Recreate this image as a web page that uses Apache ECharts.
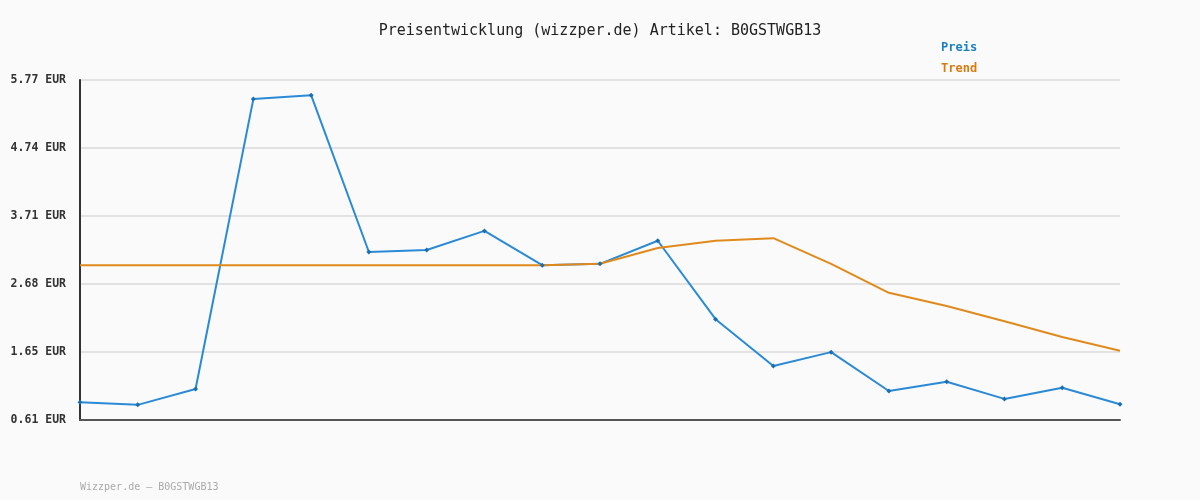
<!DOCTYPE html><html><head><meta charset="utf-8"><script src="https://cdn.jsdelivr.net/npm/echarts@6/dist/echarts.min.js"></script>
<style>html,body{margin:0;background:#fafafa}#c{width:1200px;height:500px}</style></head><body><div id="c"></div><script>
const categories=[1,2,3,4,5,6,7,8,9,10,11,12,13,14,15,16,17,18,19].map(String);
const preis=[0.88,0.84,1.08,5.48,5.54,3.16,3.19,3.48,2.96,2.98,3.33,2.14,1.43,1.64,1.05,1.19,0.93,1.10,0.85];
const trend=[2.96,2.96,2.96,2.96,2.96,2.96,2.96,2.96,2.96,2.98,3.22,3.33,3.37,2.98,2.54,2.34,2.11,1.87,1.66];
const yTicks=[0.61,1.65,2.68,3.71,4.74,5.77];
const F='DejaVu Sans Mono';
const ch=echarts.init(document.getElementById('c'));
ch.setOption({backgroundColor:'#fafafa',animation:false,
title:{text:'Preisentwicklung (wizzper.de) Artikel: B0GSTWGB13',left:'center',top:19,textStyle:{fontFamily:F,fontSize:15,fontWeight:'normal',color:'#222'}},
legend:{orient:'vertical',left:936,top:37,itemWidth:0,itemHeight:0,itemGap:9,icon:'none',textStyle:{fontFamily:F,fontSize:12,fontWeight:'bold',padding:[0,0,0,-8]},
 data:[{name:'Preis',textStyle:{color:'#1a7fc0'}},{name:'Trend',textStyle:{color:'#d97b0f'}}]},
graphic:[{type:'text',left:80,top:482,style:{text:'Wizzper.de – B0GSTWGB13',fontFamily:F,fontSize:10,fill:'#aaa'}}],
grid:{left:80,right:80,top:80,bottom:80},
xAxis:{type:'category',data:categories,boundaryGap:false,axisLabel:{show:false},axisTick:{show:false},axisLine:{lineStyle:{color:'#555',width:2}}},
yAxis:{type:'value',min:0.61,max:5.77,interval:1.032,axisLine:{show:true,lineStyle:{color:'#333',width:2}},axisTick:{show:false},
 splitLine:{lineStyle:{color:'#e2e2e2',width:2}},
 axisLabel:{margin:14,fontFamily:F,fontSize:11.5,fontWeight:'bold',color:'#333',formatter:v=>{let b=yTicks.reduce((a,t)=>Math.abs(t-v)<Math.abs(a-v)?t:a);return b.toFixed(2)+' EUR';}}},
series:[{name:'Preis',type:'line',data:preis,color:'#2a8ad6',symbol:'diamond',symbolSize:5,lineStyle:{width:2,color:'#2a8ad6'},itemStyle:{color:'#1a6fb0'}},
{name:'Trend',type:'line',data:trend,color:'#e08a1c',showSymbol:false,lineStyle:{width:2,color:'#e08a1c'}}]});
</script></body></html>
